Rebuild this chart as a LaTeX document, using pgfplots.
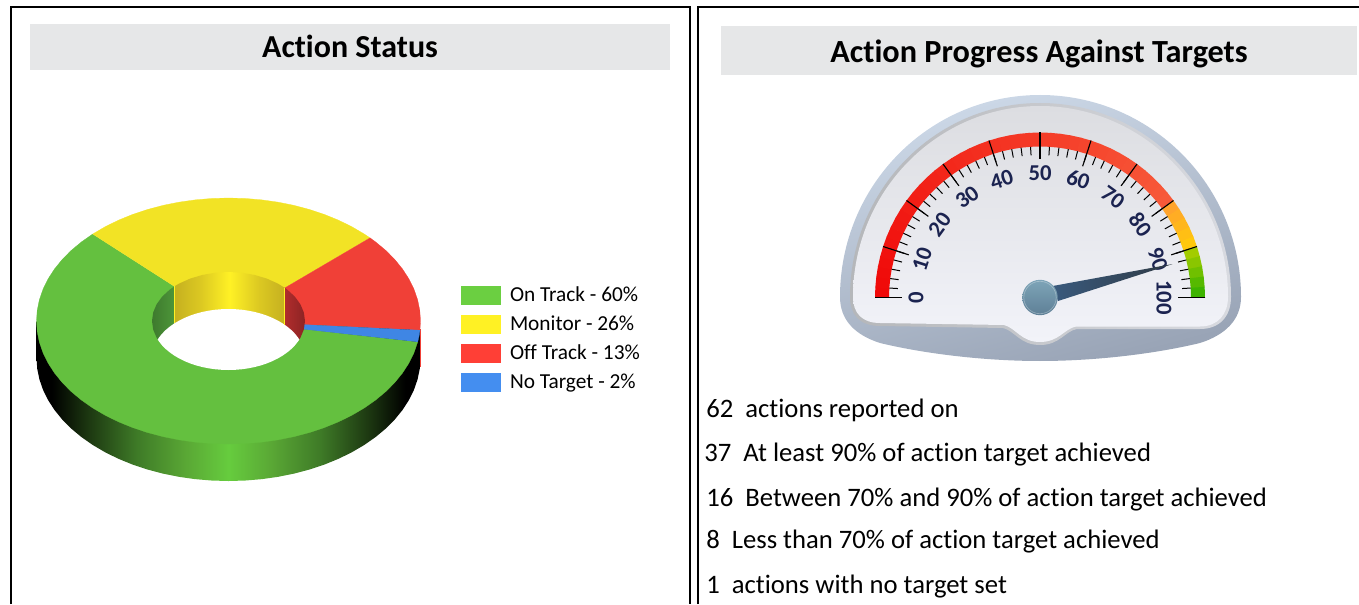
\documentclass[border=0pt]{standalone}
\usepackage{pgfplots}
\pgfplotsset{compat=1.18}
\usepackage{fontspec}
\setmainfont[Ligatures=NoCommon]{Carlito}
\definecolor{gOn}{HTML}{64C03F}
\definecolor{gMon}{HTML}{F2E325}
\definecolor{gOff}{HTML}{F04037}
\definecolor{gNo}{HTML}{3F86E4}
\definecolor{wmid}{HTML}{66CC3E}
\definecolor{wa}{HTML}{1B3510}
\definecolor{wb}{HTML}{3E7A27}
\definecolor{wc}{HTML}{5AA835}
\definecolor{ya}{HTML}{C5B020}
\definecolor{yb}{HTML}{DCC922}
\definecolor{yc}{HTML}{FFF125}
\definecolor{barg}{HTML}{E6E7E8}
\definecolor{navy}{HTML}{1B2350}
\definecolor{cCD}{HTML}{CDD9E8}
\definecolor{c99}{HTML}{99A4B6}
\definecolor{rimL}{HTML}{B5B7BA}
\definecolor{rimR}{HTML}{D8DAE0}
\definecolor{faceT}{HTML}{DCDDE1}
\definecolor{faceB}{HTML}{F2F3F9}
\definecolor{bandR1}{HTML}{F00808}
\definecolor{bandR2}{HTML}{F75A3A}
\definecolor{bandO1}{HTML}{FFA030}
\definecolor{bandO2}{HTML}{FFCC08}
\definecolor{bandG1}{HTML}{B0CF00}
\definecolor{bandG2}{HTML}{30B000}
\definecolor{HwL}{HTML}{3E7A2E}
\definecolor{HwR}{HTML}{4D9639}
\definecolor{HrL}{HTML}{B02C2C}
\definecolor{HrR}{HTML}{8C2424}
\definecolor{nL}{HTML}{3A5A7D}
\definecolor{nR}{HTML}{2F3A44}
\definecolor{lOn}{HTML}{6BCF41}
\definecolor{lMon}{HTML}{FFF124}
\definecolor{lOff}{HTML}{FF3F36}
\definecolor{lNo}{HTML}{448EF0}
\definecolor{hubT}{HTML}{7EA4B8}
\definecolor{hubB}{HTML}{5E8096}
\pgfdeclarehorizontalshading{wallg}{100bp}{color(0bp)=(black); color(25bp)=(black); color(27bp)=(black); color(31.5bp)=(wa); color(38bp)=(wb); color(44.5bp)=(wc); color(50bp)=(wmid); color(55.5bp)=(wc); color(62bp)=(wb); color(68.5bp)=(wa); color(73bp)=(black); color(75bp)=(black); color(100bp)=(black)}
\pgfdeclarehorizontalshading{wally}{100bp}{color(0bp)=(ya); color(25bp)=(ya); color(37bp)=(yb); color(50bp)=(yc); color(63bp)=(yb); color(75bp)=(ya); color(100bp)=(ya)}
\pgfplotsset{
  table/outer/.style={x expr=228.5+192*\thisrow{c}, y expr=321-123*\thisrow{s}},
  table/lower/.style={x expr=228.5+192*\thisrow{c}, y expr=358-123*\thisrow{s}},
  table/inner/.style={x expr=228.5+76.5*\thisrow{c}, y expr=321+\thisrow{d}-49*\thisrow{s}},
  rectleg/.style={legend image code/.code={\fill[##1,draw=none] (0pt,-3pt) rectangle (30pt,11.8pt);}},
}
\begin{document}
\begin{tikzpicture}
\useasboundingbox (0,0) rectangle (1019.25pt,453pt);
\begin{scope}[x=.75pt,y=-.75pt,yshift=453pt]
 % panels
 \draw[black,line width=1.5pt] (10.5,604) -- (10.5,7) -- (690,7) -- (690,604);
 \draw[black,line width=1.5pt] (698,604) -- (698,7) -- (1359,7);
 \fill[barg] (30,24) rectangle (670,70);
 \fill[barg] (721,26) rectangle (1357,75);
 \node[font=\fontsize{24}{28}\selectfont\bfseries,anchor=base] at (350,57.5) {Action Status};
 \node[font=\fontsize{24.2}{28}\selectfont\bfseries,anchor=base] at (1039,63) {Action Progress Against Targets};
 % text lines
 \foreach \y/\t in {417.5/62\ \ actions reported on,506.5/16\ \ Between 70\% and 90\% of action target achieved,548.5/8\ \ Less than 70\% of action target achieved,593.5/1\ \ actions with no target set}
   \node[font=\fontsize{20}{24}\selectfont,anchor=base west,inner sep=0pt] at (706,\y) {\t};
 \node[font=\fontsize{20}{24}\selectfont,anchor=base west,inner sep=0pt] at (704,461.5) {37\ \ At least 90\% of action target achieved};
 % gauge body
 \shade[top color=cCD,bottom color=c99,shading angle=15] (840,297) .. controls (840,185.6) and (929,95) .. (1040,95) .. controls (1151,95) and (1241,185.6) .. (1241,297) .. controls (1241,320) and (1225,335) .. (1200,343) .. controls (1150,355) and (1090,361) .. (1040,361) .. controls (990,361) and (930,355) .. (880,343) .. controls (855,335) and (840,320) .. (840,297) -- cycle;
 \shade[left color=rimL,right color=rimR] (850,297) .. controls (850,190) and (935,103) .. (1040,103) .. controls (1145,103) and (1231,190) .. (1231,297) .. controls (1231,316) and (1220,329) .. (1200,329) -- (1077,329) .. controls (1065,331) and (1060,345) .. (1040,345) .. controls (1020,345) and (1015,331) .. (1003,328) -- (880,326) .. controls (860,326) and (850,315) .. (850,297) -- cycle;
 \shade[top color=faceT,bottom color=faceB] (853,297) .. controls (853,192) and (937,106) .. (1040,106) .. controls (1143,106) and (1228,192) .. (1228,297) .. controls (1228,314) and (1218,326.5) .. (1200,326.5) -- (1076,326.5) .. controls (1064,329) and (1059,342) .. (1040,342) .. controls (1021,342) and (1016,328) .. (1004,325) -- (880,323) .. controls (862,323) and (853,313) .. (853,297) -- cycle;
 % band
 \foreach \v in {0,2,...,98}{
   \pgfmathsetmacro\aA{180-1.8*\v+.1}
   \pgfmathsetmacro\aB{180-1.8*(\v+2)-.1}
   \ifnum\v<80
     \pgfmathsetmacro\pc{100*(\v+1)/80}\colorlet{bc}{bandR2!\pc!bandR1}%
   \else\ifnum\v<90
     \pgfmathsetmacro\pc{100*(\v-79)/10}\colorlet{bc}{bandO2!\pc!bandO1}%
   \else
     \pgfmathsetmacro\pc{100*(\v-89)/10}\colorlet{bc}{bandG2!\pc!bandG1}%
   \fi\fi
   \fill[bc] ({1040+165*cos(\aA)},{297.5-165*sin(\aA)}) -- ({1040+165*cos(\aB)},{297.5-165*sin(\aB)}) -- ({1040+151*cos(\aB)},{297.5-151*sin(\aB)}) -- ({1040+151*cos(\aA)},{297.5-151*sin(\aA)}) -- cycle;
 }
 % ticks
 \foreach \v in {0,2,...,100}{
   \pgfmathsetmacro\aA{180-1.8*\v}
   \draw[black,line width=.75pt] ({1040+151*cos(\aA)},{297.5-151*sin(\aA)}) -- ({1040+142.5*cos(\aA)},{297.5-142.5*sin(\aA)});
 }
 \foreach \v in {0,10,...,100}{
   \pgfmathsetmacro\aA{180-1.8*\v}
   \pgfmathsetmacro\rr{90-1.8*\v}
   \draw[black,line width=.85pt] ({1040+165*cos(\aA)},{297.5-165*sin(\aA)}) -- ({1040+138*cos(\aA)},{297.5-138*sin(\aA)});
   \node[font=\fontsize{17}{20}\selectfont\bfseries,text=navy,rotate=\rr,inner sep=0pt] at ({1040+124*cos(\aA)},{297.5-124*sin(\aA)}) {\v};
 }
\end{scope}
\begin{axis}[scale only axis,width=1019.25pt,height=453pt,at={(0,0)},anchor=south west,
  xmin=0,xmax=1359,ymin=0,ymax=604,y dir=reverse,hide axis,clip=true,
  legend style={at={(axis cs:461,285.7)},anchor=north west,draw=none,fill=none,inner sep=0pt,outer sep=0pt,
    font=\fontsize{16}{19}\selectfont,row sep=6.9pt,
    nodes={inner sep=0pt,outer sep=0pt,anchor=base west},
    /tikz/column 2/.style={column sep=0pt}},
  legend cell align=left]
% side wall
\addplot[forget plot,draw=none,shade,shading=wallg] table[lower] {
c s
-1 0.3008
-1 0
-0.9962 -0.0872
-0.9848 -0.1736
-0.9659 -0.2588
-0.9397 -0.3420
-0.9063 -0.4226
-0.8660 -0.5
-0.8192 -0.5736
-0.7660 -0.6428
-0.7071 -0.7071
-0.6428 -0.7660
-0.5736 -0.8192
-0.5 -0.8660
-0.4226 -0.9063
-0.3420 -0.9397
-0.2588 -0.9659
-0.1736 -0.9848
-0.0872 -0.9962
0 -1
0.0872 -0.9962
0.1736 -0.9848
0.2588 -0.9659
0.3420 -0.9397
0.4226 -0.9063
0.5 -0.8660
0.5736 -0.8192
0.6428 -0.7660
0.7071 -0.7071
0.7660 -0.6428
0.8192 -0.5736
0.8660 -0.5
0.9063 -0.4226
0.9397 -0.3420
0.9659 -0.2588
0.9848 -0.1736
0.9962 -0.0872
1 0
1 0.3008
};
\addplot[forget plot,gOff,line width=.75pt] coordinates {(420,329) (420,367)};
% top face: On Track 60 %
\addplot[forget plot,fill=gOn,draw=gOn,line width=.2pt] table[outer] {
c s
0 0
0.9854 -0.1702
0.9659 -0.2588
0.9397 -0.3420
0.9063 -0.4226
0.8660 -0.5
0.8192 -0.5736
0.7660 -0.6428
0.7071 -0.7071
0.6428 -0.7660
0.5736 -0.8192
0.5 -0.8660
0.4226 -0.9063
0.3420 -0.9397
0.2588 -0.9659
0.1736 -0.9848
0.0872 -0.9962
0 -1
-0.0872 -0.9962
-0.1736 -0.9848
-0.2588 -0.9659
-0.3420 -0.9397
-0.4226 -0.9063
-0.5 -0.8660
-0.5736 -0.8192
-0.6428 -0.7660
-0.7071 -0.7071
-0.7660 -0.6428
-0.8192 -0.5736
-0.8660 -0.5
-0.9063 -0.4226
-0.9397 -0.3420
-0.9659 -0.2588
-0.9848 -0.1736
-0.9962 -0.0872
-1 0
-0.9962 0.0872
-0.9848 0.1736
-0.9659 0.2588
-0.9397 0.3420
-0.9063 0.4226
-0.8660 0.5
-0.8192 0.5736
-0.7660 0.6428
-0.7071 0.7071
};
% Monitor 26 %
\addplot[forget plot,fill=gMon,draw=gMon,line width=.2pt] table[outer] {
c s
0 0
-0.7071 0.7071
-0.6428 0.7660
-0.5736 0.8192
-0.5 0.8660
-0.4226 0.9063
-0.3420 0.9397
-0.2588 0.9659
-0.1736 0.9848
-0.0872 0.9962
0 1
0.0872 0.9962
0.1736 0.9848
0.2588 0.9659
0.3420 0.9397
0.4226 0.9063
0.5 0.8660
0.5736 0.8192
0.6428 0.7660
0.7071 0.7071
0.7373 0.6756
};
% Off Track 13 %
\addplot[forget plot,fill=gOff,draw=gOff,line width=.2pt] table[outer] {
c s
0 0
0.7373 0.6756
0.7660 0.6428
0.8192 0.5736
0.8660 0.5
0.9063 0.4226
0.9397 0.3420
0.9659 0.2588
0.9848 0.1736
0.9962 0.0872
1 0
0.9972 -0.0750
};
% No Target 2 %
\addplot[forget plot,fill=gNo,draw=gNo,line width=.2pt] table[outer] {
c s
0 0
0.9972 -0.0750
0.9925 -0.1219
0.9854 -0.1702
};
% hole walls
\addplot[forget plot,draw=none,shade,left color=HwL,right color=HwR] table[inner] {
c s d
-0.7071 0.7071 0
-0.7660 0.6428 0
-0.8660 0.5 0
-0.9397 0.3420 0
-0.9848 0.1736 0
-1 0 0
-0.9848 -0.1736 0
-0.9397 -0.3420 0
-0.926 -0.378 0
-0.7071 -0.378 0
};
\addplot[forget plot,draw=none,shade,shading=wally] table[inner] {
c s d
-0.7071 0.7071 0
-0.6428 0.7660 0
-0.5 0.8660 0
-0.3420 0.9397 0
-0.1736 0.9848 0
0 1 0
0.1736 0.9848 0
0.3420 0.9397 0
0.5 0.8660 0
0.6428 0.7660 0
0.7373 0.6756 0
0.7373 -0.18 0
-0.7071 -0.18 0
};
\addplot[forget plot,draw=none,shade,left color=HrL,right color=HrR] table[inner] {
c s d
0.7373 0.6756 0
0.7660 0.6428 0
0.8660 0.5 0
0.9397 0.3420 0
0.9848 0.1736 0
1 0 0
0.9848 -0.1736 0
0.9397 -0.3420 0
0.926 -0.378 0
0.7373 -0.378 0
};
% the hole
\addplot[forget plot,fill=white,draw=none] table[inner] {
c s d
-0.926 0.378 37
-0.9063 0.4226 37
-0.8660 0.5 37
-0.8192 0.5736 37
-0.7660 0.6428 37
-0.7071 0.7071 37
-0.6428 0.7660 37
-0.5736 0.8192 37
-0.5 0.8660 37
-0.4226 0.9063 37
-0.3420 0.9397 37
-0.2588 0.9659 37
-0.1736 0.9848 37
-0.0872 0.9962 37
0 1 37
0.0872 0.9962 37
0.1736 0.9848 37
0.2588 0.9659 37
0.3420 0.9397 37
0.4226 0.9063 37
0.5 0.8660 37
0.5736 0.8192 37
0.6428 0.7660 37
0.7071 0.7071 37
0.7660 0.6428 37
0.8192 0.5736 37
0.8660 0.5 37
0.9063 0.4226 37
0.926 0.378 37
0.926 -0.378 0
0.9063 -0.4226 0
0.8660 -0.5 0
0.8192 -0.5736 0
0.7660 -0.6428 0
0.7071 -0.7071 0
0.6428 -0.7660 0
0.5736 -0.8192 0
0.5 -0.8660 0
0.4226 -0.9063 0
0.3420 -0.9397 0
0.2588 -0.9659 0
0.1736 -0.9848 0
0.0872 -0.9962 0
0 -1 0
-0.0872 -0.9962 0
-0.1736 -0.9848 0
-0.2588 -0.9659 0
-0.3420 -0.9397 0
-0.4226 -0.9063 0
-0.5 -0.8660 0
-0.5736 -0.8192 0
-0.6428 -0.7660 0
-0.7071 -0.7071 0
-0.7660 -0.6428 0
-0.8192 -0.5736 0
-0.8660 -0.5 0
-0.9063 -0.4226 0
-0.926 -0.378 0
};
\addplot[forget plot,color=yc,line width=.75pt] coordinates {(174.4,286.4) (174.4,323.4)};
\addplot[forget plot,color=yc,line width=.75pt] coordinates {(284.9,287.9) (284.9,324.9)};
% needle, reading about 92
\addplot[forget plot,draw=none,shade,left color=nL,right color=nR] coordinates {(1052.7,286) (1172.7,264) (1058,301)};
% legend
\addlegendimage{rectleg,fill=lOn}\addlegendentry{\hspace{6.75pt}On Track - 60\%}
\addlegendimage{rectleg,fill=lMon}\addlegendentry{\hspace{6.75pt}Monitor - 26\%}
\addlegendimage{rectleg,fill=lOff}\addlegendentry{\hspace{6.75pt}Off Track - 13\%}
\addlegendimage{rectleg,fill=lNo}\addlegendentry{\hspace{6.75pt}No Target - 2\%}
\end{axis}
\begin{scope}[x=.75pt,y=-.75pt,yshift=453pt]
 \shade[top color=hubT,bottom color=hubB] (1040,297.5) circle[radius=17.7];
 \draw[white,opacity=.3,line width=.5pt] (1040,297.5) circle[radius=16.2];
\end{scope}
\end{tikzpicture}
\end{document}
